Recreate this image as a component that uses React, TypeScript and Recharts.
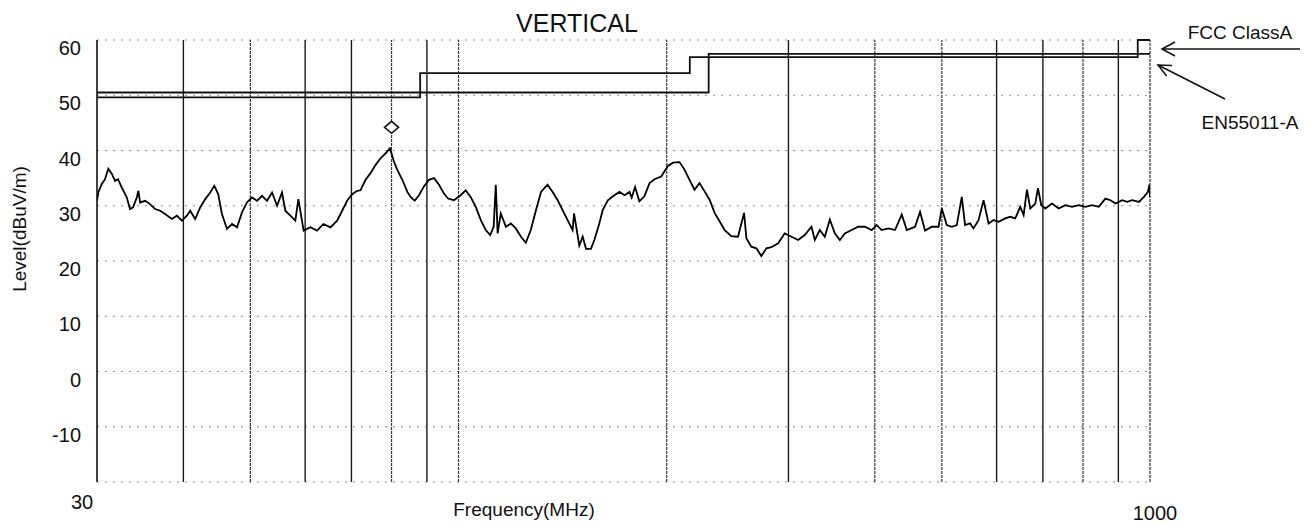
import React from 'react'
import {
  ComposedChart,
  Line,
  Scatter,
  XAxis,
  YAxis,
  CartesianGrid,
  ReferenceLine,
} from 'recharts'

// emission scan (MHz / dBuV/m)
const traceFreq = [
  30, 30.13, 30.47, 30.81, 31.15, 31.51, 31.86, 32.18, 32.58, 33.13, 33.49, 33.83, 34.25, 34.43, 34.63, 35.21, 35.8, 36.41,
  37.02, 37.64, 38.49, 39.14, 39.8, 40.47, 40.92, 41.6, 42.3, 43.02, 43.74, 44.33, 44.92, 45.48, 46.25, 47.03, 47.82, 48.62,
  49.43, 50.27, 51.11, 51.97, 52.85, 53.74, 54.64, 55.55, 56.17, 57.12, 58.07, 58.66, 59.7, 61.06, 62.43, 63.76, 65.27, 66.75,
  67.87, 69.0, 70.17, 71.35,
  72.14, 73.37, 74.6, 75.87, 77.14, 78.44, 79.57, 80.64, 81.55, 82.93, 84.32, 85.26, 86.4, 87.65, 89.12, 90.62, 92.15, 93.7,
  95.27, 96.55, 98.5, 100.7, 102.4, 104.1, 105.9, 107.7, 109.5, 111.1, 112.4, 113.2, 113.9, 115.1, 117.1, 119.0, 121.0, 123.1,
  125.1, 127.2, 129.4, 131.6, 134.5, 136.8, 139.1, 141.4, 143.8, 146.2, 146.9, 149.5, 151.2, 152.9, 155.4, 157.2, 159.8, 161.6,
  164.4, 168.0, 170.9, 173.8, 176.7, 178.0, 180.0, 182.6,
  185.7, 188.9, 192.0, 196.4, 200.8, 204.2, 208.7, 212.3, 215.8, 219.4, 223.1, 226.9, 230.7, 234.6, 238.5, 242.6, 248.0, 253.6,
  258.8, 260.8, 265.1, 269.6, 274.1, 278.8, 283.4, 289.9, 296.3, 303.0, 309.9, 316.7, 323.9, 327.5, 333.0, 338.6, 344.3, 350.1,
  356.0, 362.0, 370.2, 378.5, 387.0, 395.8, 402.4, 409.2, 418.5, 427.8, 437.5, 444.9,
  457.3, 465.0, 472.8, 483.5, 494.5, 499.9, 508.3, 516.8, 525.5, 534.3, 540.2, 549.3, 555.6, 565.0, 574.5, 584.2, 594.0, 604.0,
  617.4, 627.8, 638.4, 649.1, 656.5, 663.8, 671.2, 682.5, 688.6, 696.2, 705.5, 721.5, 737.8, 754.3, 771.4, 788.8, 806.4, 824.6,
  843.1, 862.0, 876.6, 891.4, 911.5, 926.8, 942.4, 963.7, 980, 993, 998, 1000,
]
const traceLevel = [
  30.9, 32.4, 33.9, 34.8, 36.7, 35.8, 34.5, 34.8, 33.3, 31.5, 29.4, 29.7, 31.5, 32.7, 30.6, 30.9, 30.3, 29.4,
  29.1, 28.5, 27.6, 28.2, 27.3, 28.2, 29.1, 27.6, 29.7, 31.2, 32.4, 33.6, 32.1, 28.5, 25.8, 26.7, 26.1, 28.8,
  30.6, 31.5, 30.9, 31.8, 30.9, 32.4, 30.0, 32.4, 29.1, 28.2, 27.3, 31.2, 25.5, 26.1, 25.5, 26.7, 26.1, 27.3,
  29.1, 30.9, 32.1, 32.7,
  32.8, 34.7, 35.9, 37.4, 38.6, 39.5, 40.4, 38.0, 36.5, 34.7, 32.5, 31.6, 30.9, 31.9, 33.5, 34.7, 35.0, 33.8,
  32.2, 31.3, 31.0, 31.9, 32.8, 31.6, 29.8, 27.4, 25.6, 24.7, 26.2, 33.8, 25.0, 28.6, 26.2, 26.8, 25.9, 24.4,
  23.3, 25.6, 29.2, 32.5, 33.8, 32.5, 31.0, 29.2, 27.4, 25.6, 28.6, 22.8, 24.4, 22.2, 22.2, 23.8, 26.8, 29.2,
  31.0, 31.9, 32.5, 31.9, 32.5, 31.5, 33.4, 30.8,
  31.7, 34.1, 34.8, 35.3, 37.2, 37.8, 37.9, 36.5, 34.7, 32.9, 34.1, 32.6, 31.1, 28.7, 27.2, 25.6, 24.5, 24.4,
  28.7, 24.1, 22.6, 22.3, 20.9, 22.3, 22.5, 23.2, 25.0, 24.4, 23.8, 24.7, 26.2, 23.8, 25.6, 24.4, 27.5, 25.0,
  23.8, 25.0, 25.6, 26.2, 26.2, 25.6, 26.5, 25.6, 25.9, 25.6, 28.4, 25.6,
  26.2, 28.9, 25.5, 26.2, 26.2, 29.5, 26.5, 26.2, 26.5, 31.6, 26.5, 26.8, 25.9, 27.4, 31.0, 26.8, 27.4, 27.1,
  27.7, 28.0, 27.7, 29.8, 28.3, 32.9, 29.5, 30.4, 33.2, 30.1, 29.5, 30.4, 29.5, 30.1, 29.8, 30.1, 29.8, 30.1,
  29.8, 31.3, 31.0, 30.4, 31.0, 30.7, 31.0, 30.7, 31.6, 32.5, 33.8, 31.6,
]

// limit lines
const fccFreq = [30, 88, 88, 216, 216, 960, 960, 1000]
const fccLevel = [49.6, 49.6, 54, 54, 56.9, 56.9, 60, 60]
const enFreq = [30, 230, 230, 1000]
const enLevel = [50.5, 50.5, 57.5, 57.5]

// peak marker
const markerFreq = [80]
const markerLevel = [44.2]

const yTicks = [-20, -10, 0, 10, 20, 30, 40, 50, 60]
const xTicks = [30, 1000]
const gridSolid = [40, 60, 70, 90, 300, 600, 700, 900]
const gridDotted = [50, 80, 100, 200, 400, 500, 800, 1000]

const FONT = '"Liberation Sans", Arial, sans-serif'

const toRows = (f: number[], v: number[]) => f.map((freq, i) => ({ freq, level: v[i] }))

const traceData = toRows(traceFreq, traceLevel)
const fccData = toRows(fccFreq, fccLevel)
const enData = toRows(enFreq, enLevel)
const markerData = toRows(markerFreq, markerLevel)

const YTick = (props: any) => {
  const { x, y, payload } = props
  if (payload.value === -20) return null
  return (
    <text x={x} y={y + 8} dy="0.35em" textAnchor="end" fontSize={20} fontFamily={FONT} fill="#111">
      {payload.value}
    </text>
  )
}

const XTick = (props: any) => {
  const { x, y, payload } = props
  const first = payload.value === 30
  return (
    <text
      x={x + (first ? -15 : 5)}
      y={y + (first ? 20 : 31)}
      dy="0.35em"
      textAnchor="middle"
      fontSize={20}
      fontFamily={FONT}
      fill="#111"
    >
      {payload.value}
    </text>
  )
}

const Diamond = (props: any) => {
  const { cx, cy } = props
  return (
    <path
      d={`M${cx},${cy - 6} L${cx + 7},${cy} L${cx},${cy + 6} L${cx - 7},${cy} Z`}
      fill="#fff"
      stroke="#111"
      strokeWidth={1.6}
    />
  )
}

export default function App() {
  return (
    <div style={{ position: 'absolute', left: 0, top: 0, width: 1309, height: 524, background: '#fff' }}>
      <ComposedChart width={1309} height={524} margin={{ top: 40, right: 159, left: 0, bottom: 0 }}>
        <CartesianGrid vertical={false} stroke="#8a8a8a" strokeDasharray="2 6" />
        {gridSolid.map((f) => (
          <ReferenceLine key={'s' + f} x={f} stroke="#1a1a1a" strokeWidth={1.4} />
        ))}
        {gridDotted.map((f) => (
          <ReferenceLine key={'d' + f} x={f} stroke="#333" strokeWidth={1.2} strokeDasharray="3 1" />
        ))}
        <XAxis
          dataKey="freq"
          type="number"
          scale="log"
          domain={[30, 1000]}
          allowDataOverflow
          ticks={xTicks}
          interval={0}
          height={42}
          axisLine={false}
          tickLine={false}
          tickSize={0}
          tickMargin={0}
          tick={<XTick />}
        />
        <YAxis
          type="number"
          domain={[-20, 60]}
          ticks={yTicks}
          interval={0}
          width={97}
          axisLine={{ stroke: '#111', strokeWidth: 1.6 }}
          tickLine={false}
          tickSize={0}
          tickMargin={16}
          tick={<YTick />}
        />
        <Line
          data={enData}
          dataKey="level"
          type="linear"
          stroke="#111"
          strokeWidth={1.8}
          dot={false}
          isAnimationActive={false}
        />
        <Line
          data={fccData}
          dataKey="level"
          type="linear"
          stroke="#111"
          strokeWidth={1.8}
          dot={false}
          isAnimationActive={false}
        />
        <Line
          data={traceData}
          dataKey="level"
          type="linear"
          stroke="#000"
          strokeWidth={1.8}
          dot={false}
          isAnimationActive={false}
        />
        <Scatter data={markerData} dataKey="level" shape={<Diamond />} isAnimationActive={false} />
      </ComposedChart>
      <svg
        width={1309}
        height={524}
        style={{ position: 'absolute', left: 0, top: 0, pointerEvents: 'none' }}
        fontFamily={FONT}
        fill="#111"
      >
        <text x={577} y={32} textAnchor="middle" fontSize={25}>VERTICAL</text>
        <text transform="translate(26,229) rotate(-90)" textAnchor="middle" fontSize={19}>Level(dBuV/m)</text>
        <text x={524} y={516} textAnchor="middle" fontSize={19}>Frequency(MHz)</text>
        <text x={1240} y={39} textAnchor="middle" fontSize={19}>FCC ClassA</text>
        <text x={1250} y={129} textAnchor="middle" fontSize={19}>EN55011-A</text>
        <g stroke="#111" strokeWidth={1.5} fill="none">
          <line x1={1162} y1={49} x2={1300} y2={49} />
          <polyline points="1175,42 1162,49 1175,56" />
          <line x1={1158} y1={65} x2={1225} y2={99} />
          <polyline points="1172,65.5 1158,65 1166.6,76" />
        </g>
      </svg>
    </div>
  )
}
